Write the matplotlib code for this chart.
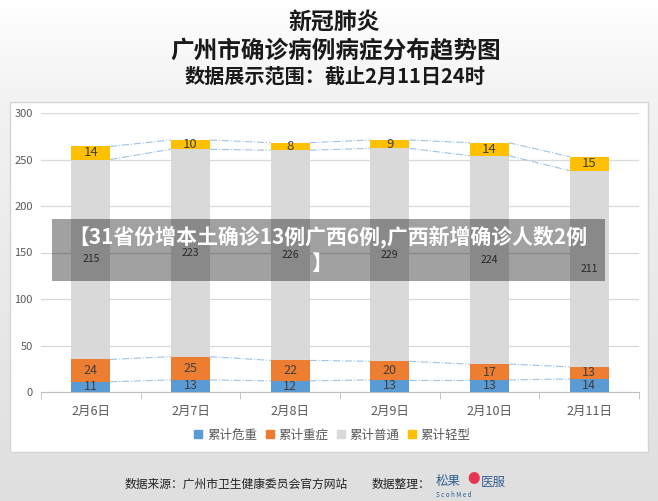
import numpy as np
import matplotlib
matplotlib.use("Agg")
import matplotlib.pyplot as plt
from matplotlib.patches import Rectangle
from matplotlib.lines import Line2D

plt.rcParams['font.family'] = ['Noto Sans CJK SC', 'DejaVu Sans']

categories = ["2月6日", "2月7日", "2月8日", "2月9日", "2月10日", "2月11日"]
series_names = ["累计危重", "累计重症", "累计普通", "累计轻型"]
critical = [11, 13, 12, 13, 13, 14]
severe = [24, 25, 22, 20, 17, 13]
common = [215, 223, 226, 229, 224, 211]
mild = [14, 10, 8, 9, 14, 15]
yticks = [0, 50, 100, 150, 200, 250, 300]

colors = ["#5B9BD5", "#ED7D31", "#D9D9D9", "#FFC000"]
W, H = 658, 501

def fx(x):
    return x / W

def fy(y):
    return 1 - y / H

fig = plt.figure(figsize=(W / 100, H / 100), dpi=100)

# background gradient
bg = fig.add_axes([0, 0, 1, 1], zorder=-10)
grad = np.concatenate([np.linspace(1.0, 0.95, 100), np.linspace(0.95, 0.875, 401)])
img = np.tile(grad[:, None], (1, 10))
bg.imshow(np.dstack([img, img, img]), aspect='auto', extent=[0, 1, 0, 1])
bg.axis('off')

# white panel
fig.add_artist(Rectangle((fx(10), fy(452)), fx(648) - fx(10), fy(102) - fy(452),
                         transform=fig.transFigure, facecolor='white',
                         edgecolor='#D4D4D4', linewidth=1.0, zorder=-5))

ax = fig.add_axes([fx(41), fy(392), fx(639) - fx(41), fy(113) - fy(392)], zorder=0)
ax.set_facecolor('none')

x = np.arange(len(categories))
bw = 0.39
data = [critical, severe, common, mild]
bottom = np.zeros(len(categories))
levels = []
for i, (vals, c, name) in enumerate(zip(data, colors, series_names)):
    vals = np.array(vals, dtype=float)
    ax.bar(x, vals, bw, bottom=bottom, color=c, label=name, zorder=3)
    for xi, b, v in zip(x, bottom, vals):
        fs = 7.5 if i == 2 else (9.5 if i == 3 else 9)
        ax.text(xi, b + v / 2, f"{int(v)}", ha='center', va='center',
                fontsize=fs, color='#404040', zorder=5)
    bottom = bottom + vals
    levels.append(bottom.copy())

# series lines
for lev in levels:
    for j in range(len(categories) - 1):
        ax.plot([x[j] + bw / 2, x[j + 1] - bw / 2], [lev[j], lev[j + 1]],
                color='#9DC3E6', linestyle='-.', linewidth=0.8, zorder=2)

ax.set_xlim(-0.5, len(categories) - 0.5)
ax.set_ylim(0, 300)
ax.set_yticks(yticks)
ax.yaxis.grid(True, color='#D9D9D9', linewidth=0.9, zorder=0)
ax.set_axisbelow(True)
for s in ['top', 'right', 'left']:
    ax.spines[s].set_visible(False)
ax.spines['bottom'].set_color('#BFBFBF')
ax.tick_params(axis='y', length=0, labelsize=8, labelcolor='#595959', pad=6)
ax.set_xticks(x)
ax.set_xticklabels(categories)
ax.tick_params(axis='x', which='major', length=0, labelsize=9, labelcolor='#595959', pad=9)
ax.set_xticks(np.arange(-0.5, len(categories)), minor=True)
ax.tick_params(axis='x', which='minor', length=5, color='#BFBFBF', direction='out')

# legend
handles = [Line2D([], [], marker='s', linestyle='none', markersize=6,
                  markerfacecolor=c, markeredgecolor=c) for c in colors]
fig.legend(handles, series_names, loc='center', bbox_to_anchor=(fx(332), fy(435)),
           ncol=4, frameon=False, fontsize=9, labelcolor='#595959',
           handlelength=0.8, handletextpad=0.3, columnspacing=0.6)

# titles
fig.text(fx(334), fy(22), "新冠肺炎", ha='center', va='center', fontsize=16.5,
         fontweight='bold', color='#1A1A1A')
fig.text(fx(336), fy(50), "广州市确诊病例病症分布趋势图", ha='center', va='center',
         fontsize=17, fontweight='bold', color='#1A1A1A')
fig.text(fx(335), fy(76), "数据展示范围：截止2月11日24时", ha='center', va='center',
         fontsize=14.5, fontweight='bold', color='#1A1A1A')

# footer
fig.text(fx(125), fy(484), "数据来源：广州市卫生健康委员会官方网站", ha='left', va='center',
         fontsize=8.5, color='#222222')
fig.text(fx(372), fy(484), "数据整理：", ha='left', va='center', fontsize=8.5, color='#222222')
fig.text(fx(436), fy(482), "松果", ha='left', va='center', fontsize=9, color='#2F5F8F')
fig.text(fx(474), fy(480), "●", ha='center', va='center', fontsize=9, color='#E8344E')
fig.text(fx(481), fy(482), "医服", ha='left', va='center', fontsize=9, color='#2F5F8F')
fig.text(fx(436), fy(495), "S c o h M e d", ha='left', va='center', fontsize=4.5, color='#2F5F8F')

# overlay banner
fig.add_artist(Rectangle((fx(52), fy(281)), fx(605) - fx(52), fy(219) - fy(281),
                         transform=fig.transFigure, facecolor='black', alpha=0.37,
                         edgecolor='none', zorder=10))
fig.text(fx(328), fy(237), "【31省份增本土确诊13例广西6例,广西新增确诊人数2例",
         ha='center', va='center', fontsize=15, fontweight='bold', color='white', zorder=11)
fig.text(fx(322), fy(263), "】", ha='center', va='center', fontsize=15,
         fontweight='bold', color='white', zorder=11)

fig.savefig("out.png", dpi=100)
